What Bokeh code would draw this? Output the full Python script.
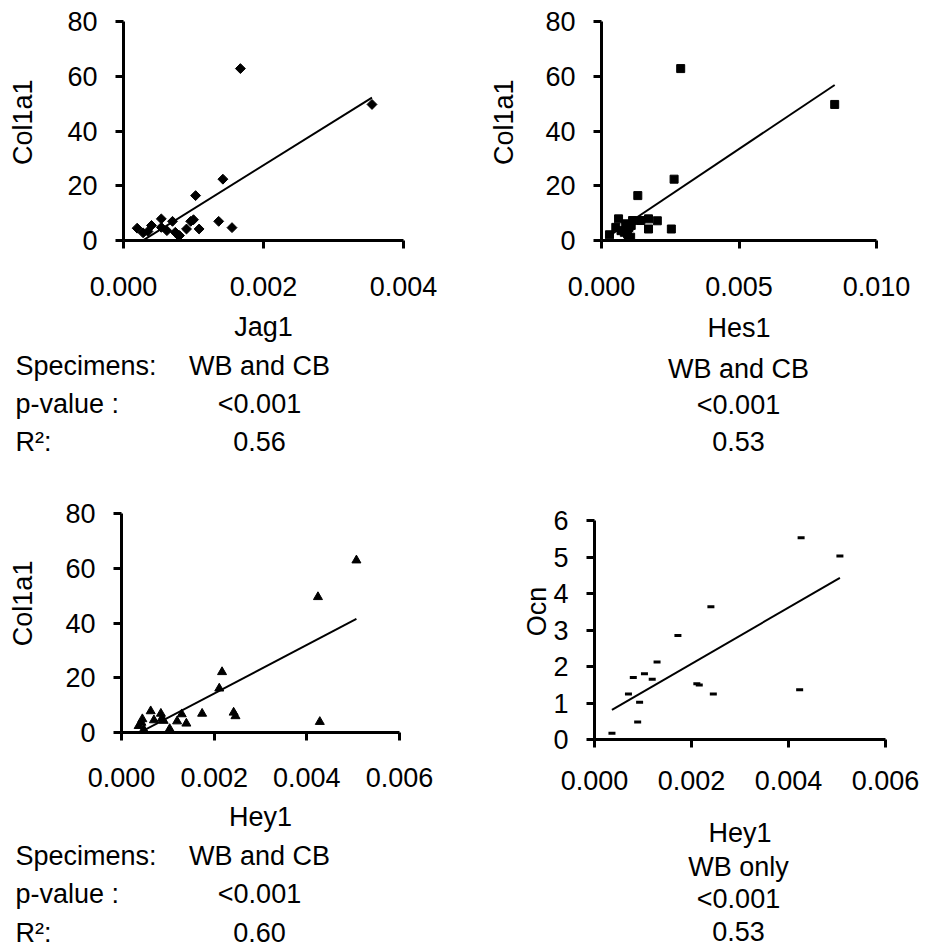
import math
from bokeh.plotting import figure
from bokeh.layouts import column, row
from bokeh.models import Range1d, FixedTicker, PrintfTickFormatter
from bokeh.core.properties import value
from bokeh.embed import file_html
from bokeh.resources import INLINE

# ---------------- data ----------------
jag1 = [0.000195, 0.00028, 0.00035, 0.0004, 0.00054, 0.00054, 0.00062, 0.0007, 0.00074,
        0.00077, 0.0008, 0.0009, 0.00096, 0.001, 0.00103, 0.00108, 0.00136, 0.00142,
        0.00155, 0.00167, 0.00355]
col1a1_jag = [4.5, 2.8, 3.3, 5.5, 7.9, 4.8, 3.6, 7.0, 3.0,
              2.2, 1.8, 4.2, 7.0, 7.6, 16.4, 4.2, 7.0, 22.4,
              4.7, 62.8, 49.7]
jag_fit_x = [0.000195, 0.00355]
jag_fit_y = [-1.3, 52.2]

hes1 = [0.00029, 0.00052, 0.00062, 0.00071, 0.00083, 0.00088, 0.00095, 0.00098, 0.001,
        0.00106, 0.00108, 0.00113, 0.00132, 0.00143, 0.00171, 0.00171, 0.00203, 0.00254,
        0.00264, 0.00288, 0.00848]
col1a1_hes = [2.1, 4.8, 7.9, 3.6, 3.0, 6.1, 2.4, 0.9, 4.8,
              1.2, 5.5, 7.3, 16.4, 7.3, 7.9, 4.2, 7.2, 4.2,
              22.4, 62.8, 49.7]
hes_fit_x = [0.00029, 0.00848]
hes_fit_y = [1.75, 56.8]

hey1_a = [0.00037, 0.00043, 0.00045, 0.00048, 0.00063, 0.0007, 0.00085, 0.00087, 0.00091,
          0.00104, 0.0012, 0.0013, 0.0014, 0.00174, 0.00211, 0.00217, 0.00242, 0.00246,
          0.00424, 0.00428, 0.00507]
col1a1_hey = [2.4, 3.6, 4.9, 1.1, 7.8, 4.5, 6.9, 5.1, 4.3,
              1.3, 4.1, 6.7, 3.3, 6.9, 16.1, 22.1, 7.3, 6.0,
              49.5, 3.9, 62.9]
hey_a_fit_x = [0.00037, 0.00507]
hey_a_fit_y = [-0.2, 41.5]

hey1_b = [0.00036, 0.0007, 0.0008, 0.00089, 0.00093, 0.00103, 0.00119, 0.00129, 0.00172,
          0.00211, 0.00216, 0.0024, 0.00245, 0.00423, 0.00426, 0.00506]
ocn = [0.17, 1.25, 1.70, 0.48, 1.02, 1.80, 1.65, 2.12, 2.85,
       1.53, 1.49, 3.64, 1.25, 1.36, 5.53, 5.03]
hey_b_fit_x = [0.00036, 0.00506]
hey_b_fit_y = [0.81, 4.43]

col_ticks = [0, 20, 40, 60, 80]
ocn_ticks = [0, 1, 2, 3, 4, 5, 6]
x_ticks_jag = [0.0, 0.002, 0.004]
x_ticks_hes = [0.0, 0.005, 0.010]
x_ticks_hey = [0.0, 0.002, 0.004, 0.006]

stat_names = ["Specimens:", "p-value :", "R\u00b2:"]
stats_jag = ["WB and CB", "<0.001", "0.56"]
stats_hes = ["WB and CB", "<0.001", "0.53"]
stats_hey_a = ["WB and CB", "<0.001", "0.60"]
stats_hey_b = ["WB only", "<0.001", "0.53"]

FONT = "Liberation Sans"
FS = "27px"


def make_panel(width, height, border, xr, yr, xticks, yticks, xlabel,
               lab_standoff, axlab_standoff):
    left, top, right, bottom = border
    p = figure(width=width, height=height, x_range=Range1d(*xr), y_range=Range1d(*yr),
               output_backend="svg", toolbar_location=None,
               min_border_left=left, min_border_right=right,
               min_border_top=top, min_border_bottom=bottom)
    p.outline_line_color = None
    p.grid.visible = False
    for ax in (p.xaxis[0], p.yaxis[0]):
        ax.axis_line_width = 3
        ax.axis_line_color = "black"
        ax.major_tick_line_width = 3
        ax.major_tick_line_color = "black"
        ax.major_tick_in = 0
        ax.major_tick_out = 8
        ax.minor_tick_line_color = None
        ax.major_label_text_font = FONT
        ax.major_label_text_font_size = FS
        ax.major_label_text_color = "black"
    p.xaxis.ticker = FixedTicker(ticks=xticks)
    p.yaxis.ticker = FixedTicker(ticks=yticks)
    p.xaxis.formatter = PrintfTickFormatter(format="%.3f")
    p.yaxis.formatter = PrintfTickFormatter(format="%d")
    p.xaxis.major_label_standoff = lab_standoff
    p.yaxis.major_label_standoff = 18
    p.xaxis.axis_label = xlabel
    p.xaxis.axis_label_text_font = FONT
    p.xaxis.axis_label_text_font_size = FS
    p.xaxis.axis_label_text_font_style = "normal"
    p.xaxis.axis_label_text_color = "black"
    p.xaxis.axis_label_standoff = axlab_standoff
    return p


def text_fig(width, height):
    t = figure(width=width, height=height, x_range=Range1d(0, width), y_range=Range1d(0, height),
               x_axis_type=None, y_axis_type=None, output_backend="svg",
               toolbar_location=None, min_border=0)
    t.outline_line_color = None
    t.grid.visible = False
    return t


def write(t, xs, ys_from_top, texts, align="left", angle=0.0):
    h = t.height
    t.text(x=xs, y=[h - y for y in ys_from_top], text=texts, angle=angle,
           text_font=value(FONT), text_font_size=value(FS), text_color="black",
           text_align=align, text_baseline="middle")


# ================= top-left : Jag1 (x 0..455, y 0..490) =================
yl1 = text_fig(50, 348)
write(yl1, [22], [160], ["Col1a1"], align="center", angle=math.pi / 2)
p1 = make_panel(405, 348, (73, 21, 52, 108), (0.0, 0.004), (0, 80),
                x_ticks_jag, col_ticks, "Jag1", 28, 13)
p1.line(jag_fit_x, jag_fit_y, line_color="black", line_width=2)
p1.scatter(jag1, col1a1_jag, marker="square", angle=math.pi / 4, size=7,
           fill_color="black", line_color="black")
tf1 = text_fig(455, 142)
rows1 = [365 - 348, 403 - 348, 441 - 348]
write(tf1, [15] * 3, rows1, stat_names)
write(tf1, [259] * 3, rows1, stats_jag, align="center")
q1 = column(row(yl1, p1), tf1)

# ================= top-right : Hes1 (x 455..925, y 0..490) =================
yl2 = text_fig(70, 348)
write(yl2, [48], [160], ["Col1a1"], align="center", angle=math.pi / 2)
p2 = make_panel(400, 348, (76, 21, 49, 108), (0.0, 0.010), (0, 80),
                x_ticks_hes, col_ticks, "Hes1", 28, 14)
p2.line(hes_fit_x, hes_fit_y, line_color="black", line_width=2)
p2.scatter(hes1, col1a1_hes, marker="square", size=8,
           fill_color="black", line_color="black")
tf2 = text_fig(470, 142)
rows2 = [368 - 348, 404.5 - 348, 441 - 348]
write(tf2, [738 - 455] * 3, rows2, stats_hes, align="center")
q2 = column(row(yl2, p2), tf2)

# ================= bottom-left : Hey1 / Col1a1 (x 0..455, y 490..947) =================
yl3 = text_fig(50, 346)
write(yl3, [22], [632 - 490], ["Col1a1"], align="center", angle=math.pi / 2)
p3 = make_panel(405, 346, (71, 23, 56, 104), (0.0, 0.006), (0, 80),
                x_ticks_hey, col_ticks, "Hey1", 27, 12)
p3.line(hey_a_fit_x, hey_a_fit_y, line_color="black", line_width=2)
p3.scatter(hey1_a, col1a1_hey, marker="triangle", size=9,
           fill_color="black", line_color="black")
tf3 = text_fig(455, 111)
rows3 = [855 - 836, 893.5 - 836, 932 - 836]
write(tf3, [15] * 3, rows3, stat_names)
write(tf3, [259] * 3, rows3, stats_hey_a, align="center")
q3 = column(row(yl3, p3), tf3)

# ================= bottom-right : Hey1 / Ocn (x 455..925, y 490..947) =================
yl4 = text_fig(95, 361)
write(yl4, [81], [640 - 490], ["Ocn"], align="center", angle=math.pi / 2)
p4 = make_panel(375, 361, (42, 30, 40, 112), (0.0, 0.006), (0, 6),
                x_ticks_hey, ocn_ticks, "Hey1", 23, 25)
p4.line(hey_b_fit_x, hey_b_fit_y, line_color="black", line_width=2)
p4.scatter(hey1_b, ocn, marker="dash", size=7, line_color="black", line_width=3)
tf4 = text_fig(470, 96)
rows4 = [866 - 851, 898.5 - 851, 931 - 851]
write(tf4, [738 - 455] * 3, rows4, stats_hey_b, align="center")
q4 = column(row(yl4, p4), tf4)

layout = column(row(q1, q2), row(q3, q4))

open("out.html", "w").write(file_html(layout, INLINE))
